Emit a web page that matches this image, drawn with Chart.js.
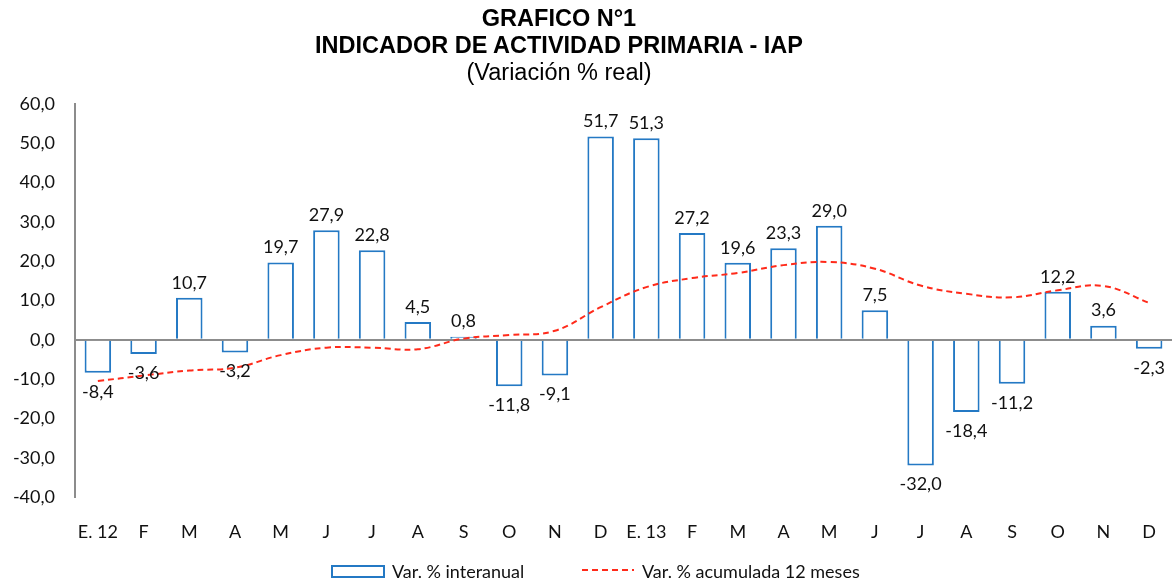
<!DOCTYPE html>
<html>
<head>
<meta charset="utf-8">
<script src="https://cdn.jsdelivr.net/npm/chart.js@4"></script>
<style>
  body { margin: 0; background: #fff; }
  #wrap { position: relative; width: 1172px; height: 581px; }
  #titulo {
    position: absolute; top: 5px; left: 0; width: 1118px;
    text-align: center; font-family: "Liberation Sans", Arial, sans-serif;
    font-size: 23.5px; line-height: 27px; color: #000;
  }
  #titulo b { display: block; }
</style>
</head>
<body>
<div id="wrap">
  <canvas id="grafico" width="1172" height="581"></canvas>
  <div id="titulo">
    <b>GRAFICO N°1</b>
    <b>INDICADOR DE ACTIVIDAD PRIMARIA - IAP</b>
    <span>(Variación % real)</span>
  </div>
</div>
<script>
const meses = ["E. 12", "F", "M", "A", "M", "J", "J", "A", "S", "O", "N", "D",
               "E. 13", "F", "M", "A", "M", "J", "J", "A", "S", "O", "N", "D"];

const interanual = [-8.4, -3.6, 10.7, -3.2, 19.7, 27.9, 22.8, 4.5, 0.8, -11.8, -9.1, 51.7,
                    51.3, 27.2, 19.6, 23.3, 29.0, 7.5, -32.0, -18.4, -11.2, 12.2, 3.6, -2.3];

const acumulada = [-10.5, -9.1, -7.8, -7.1, -3.9, -2.0, -2.0, -2.4, 0.3, 1.2, 2.3, 8.3,
                   13.4, 15.7, 17.0, 19.0, 19.8, 18.1, 13.8, 11.7, 10.8, 12.6, 13.7, 9.4];

const nombreBarras = "Var. % interanual";
const nombreLinea = "Var. % acumulada 12 meses";

const AZUL = "#2479c4";
const ROJO = "#ff2a1a";
const FUENTE = "Lato, 'Open Sans', sans-serif";

function coma(v) {
  return v.toFixed(1).replace(".", ",");
}

// etiquetas de valor sobre / bajo cada barra
const etiquetas = {
  id: "etiquetas",
  afterDatasetsDraw(chart) {
    const ctx = chart.ctx;
    const meta = chart.getDatasetMeta(0);
    ctx.save();
    ctx.font = "18px " + FUENTE;
    ctx.fillStyle = "#111";
    ctx.textAlign = "center";
    ctx.textBaseline = "middle";
    meta.data.forEach((bar, i) => {
      const v = interanual[i];
      const y = v >= 0 ? bar.y - 15 : bar.y + 19;
      ctx.fillText(coma(v), bar.x, y);
    });
    ctx.restore();
  }
};

// leyenda inferior
const leyenda = {
  id: "leyenda",
  afterDraw(chart) {
    const ctx = chart.ctx;
    const y = 571;
    ctx.save();
    ctx.font = "18px " + FUENTE;
    ctx.fillStyle = "#111";
    ctx.textBaseline = "middle";

    let x = 332;
    ctx.strokeStyle = AZUL;
    ctx.lineWidth = 2;
    ctx.strokeRect(x, y - 5, 52, 11);
    ctx.fillText(nombreBarras, x + 60, y + 1);

    x = 582;
    ctx.strokeStyle = ROJO;
    ctx.setLineDash([6, 4]);
    ctx.beginPath();
    ctx.moveTo(x, y - 1);
    ctx.lineTo(x + 52, y - 1);
    ctx.stroke();
    ctx.setLineDash([]);
    ctx.fillText(nombreLinea, x + 60, y + 1);
    ctx.restore();
  }
};

new Chart(document.getElementById("grafico"), {
  data: {
    labels: meses,
    datasets: [
      {
        type: "bar",
        label: nombreBarras,
        data: interanual,
        backgroundColor: "#ffffff",
        borderColor: AZUL,
        borderWidth: 2,
        barPercentage: 0.58,
        categoryPercentage: 1,
        order: 1
      },
      {
        type: "line",
        label: nombreLinea,
        data: acumulada,
        borderColor: ROJO,
        borderWidth: 2,
        borderDash: [6, 4],
        pointRadius: 0,
        tension: 0.4,
        fill: false,
        order: 0
      }
    ]
  },
  options: {
    responsive: false,
    animation: false,
    layout: { padding: { top: 104, right: 0, left: 0, bottom: 0 } },
    plugins: {
      legend: { display: false },
      tooltip: { enabled: false }
    },
    scales: {
      x: {
        grid: { display: false },
        border: { display: false },
        ticks: {
          color: "#111",
          font: { family: FUENTE, size: 18 },
          padding: 16,
          maxRotation: 0,
          autoSkip: false
        },
        afterFit(scale) { scale.height = 84; }
      },
      y: {
        min: -40,
        max: 60,
        ticks: {
          stepSize: 10,
          color: "#111",
          font: { family: FUENTE, size: 18 },
          padding: 20,
          callback: v => coma(v)
        },
        grid: {
          drawTicks: false,
          color: c => (c.tick && c.tick.value === 0 ? "#8c8c8c" : "rgba(0,0,0,0)"),
          lineWidth: 2
        },
        border: { display: true, color: "#8c8c8c", width: 2 },
        afterFit(scale) { scale.width = 75; }
      }
    }
  },
  plugins: [etiquetas, leyenda]
});
</script>
</body>
</html>
